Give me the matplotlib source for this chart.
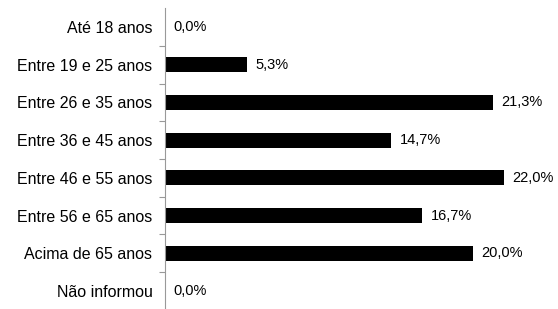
import matplotlib.pyplot as plt
import numpy as np

categories = ['Até 18 anos', 'Entre 19 e 25 anos', 'Entre 26 e 35 anos',
              'Entre 36 e 45 anos', 'Entre 46 e 55 anos', 'Entre 56 e 65 anos',
              'Acima de 65 anos', 'Não informou']
values = [0.0, 5.3, 21.3, 14.7, 22.0, 16.7, 20.0, 0.0]

plt.rcParams['font.family'] = ['Liberation Sans', 'DejaVu Sans']

fig = plt.figure(figsize=(5.58, 3.09), dpi=100)
ax = fig.add_axes([165 / 558, -0.003, 1 - 165 / 558, 0.977])

y = np.arange(len(categories))
bars = ax.barh(y, values, height=0.4, color='black')

for v, yy in zip(values, y):
    ax.annotate(f'{v:.1f}%'.replace('.', ','), (v, yy), xytext=(6, 0),
                textcoords='offset points', va='center', ha='left', fontsize=10.5)

ax.set_ylim(len(categories) - 0.5, -0.5)
ax.set_xlim(0, (558 - 165) / 15.4)

ax.set_yticks(y)
ax.set_yticklabels(categories, fontsize=11.5)
ax.tick_params(axis='y', which='major', length=0, pad=9)
ax.set_yticks(np.arange(len(categories) - 1) + 0.5, minor=True)
ax.tick_params(axis='y', which='minor', length=4, color='#999999', width=0.8)
ax.set_xticks([])

for s in ['top', 'right', 'bottom']:
    ax.spines[s].set_visible(False)
ax.spines['left'].set_color('#999999')
ax.spines['left'].set_linewidth(0.8)

fig.savefig('out.png', dpi=100)
